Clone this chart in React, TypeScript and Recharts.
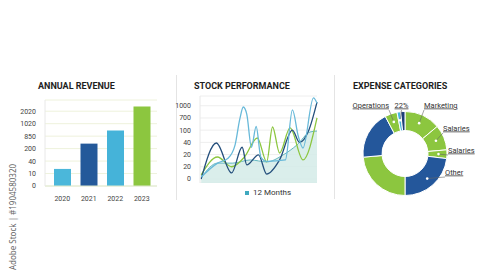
import React from 'react';
import {
  BarChart,
  Bar,
  Cell,
  XAxis,
  YAxis,
  CartesianGrid,
  ComposedChart,
  Line,
  Area,
  PieChart,
  Pie,
} from 'recharts';

// annual revenue (tick index units, labels are the odd printed values)
const revenueYears = ['2020', '2021', '2022', '2023'];
const revenueValues = [1.37, 3.4, 4.45, 6.37];
const revenueTickLabels = ['0', '10', '40', '200', '850', '1020', '2020'];
const revenueColors = ['#4bb7da', '#24599a', '#45b3d9', '#8cc63f'];

// stock performance, x in 0..100
const stockTickLabels = ['0', '20', '20', '40', '100', '700', '1000'];
const lightX = [1, 15, 24, 30, 34, 37, 40, 44, 48, 52, 57, 73, 79, 84, 88, 97, 100];
const lightY = [0.16, 1.3, 1.7, 2.8, 4.9, 5.9, 5.3, 2.6, 4.3, 1.8, 1.45, 1.56, 5.66, 3.5, 2.54, 6.64, 6.2];
const navyX = [1, 14, 27, 36, 40, 50, 57, 68, 79, 85, 93, 100];
const navyY = [0, 2.95, 0.5, 2.6, 1.15, 1.97, 0.4, 1.56, 4.0, 3.0, 4.0, 6.3];
const greenX = [1, 15, 27, 38, 49, 57, 62, 68, 77, 88, 100];
const greenY = [0.33, 1.8, 1.0, 1.8, 3.36, 1.4, 4.26, 2.13, 4.18, 1.56, 5.0];
const tealX = [1, 15, 28, 43, 57, 71, 83, 94, 100];
const tealY = [0.1, 1.3, 1.3, 1.56, 1.4, 1.97, 2.8, 3.85, 3.93];

// expense categories, clockwise from top
const expenseNames = ['Marketing', 'Salaries', 'Salaries', 'Other', 'Misc', 'Rent', 'Operations', 'Tax', 'Fees'];
const expenseLabels = ['Marketing', 'Salaries', 'Salaries', 'Other', '', '', 'Operations', '22%', ''];
const expenseValues = [50, 35, 12, 83, 85, 67, 17, 5, 6];
const expenseColors = ['#8cc63f', '#8cc63f', '#8cc63f', '#24579b', '#8cc63f', '#24579b', '#8cc63f', '#49b6dc', '#1d3f78'];

const toPoints = (xs: number[], ys: number[]) => xs.map((x, i) => ({ x, y: ys[i] }));

const revenueData = revenueYears.map((year, i) => ({ year, value: revenueValues[i] }));
const expenseData = expenseNames.map((name, i) => ({
  name,
  label: expenseLabels[i],
  value: expenseValues[i],
}));

const FONT = 'Roboto, "Noto Sans", sans-serif';
const tickStyle = { fontSize: 7, fill: '#444', fontFamily: FONT };

const titleStyle: React.CSSProperties = {
  position: 'absolute',
  top: 81,
  fontFamily: FONT,
  fontWeight: 700,
  fontSize: 9,
  color: '#1e1e1e',
  letterSpacing: 0,
  whiteSpace: 'nowrap',
};

// where each label's text sits relative to the donut centre
const labelSpots: Record<string, { dx: number; dy: number; anchor: 'start' | 'end' | 'middle' }> = {
  Marketing: { dx: 19, dy: -46, anchor: 'start' },
  Salaries0: { dx: 38, dy: -23, anchor: 'start' },
  Salaries1: { dx: 43, dy: -1, anchor: 'start' },
  Other: { dx: 40, dy: 21, anchor: 'start' },
  Operations: { dx: -16, dy: -46, anchor: 'end' },
  '22%': { dx: -3.5, dy: -46, anchor: 'middle' },
};

const RAD = Math.PI / 180;

function renderExpenseLabel(props: any) {
  const { cx, cy, midAngle, innerRadius, outerRadius, index } = props;
  const text = expenseLabels[index];
  if (!text) return null;
  const key = text === 'Salaries' ? (index === 1 ? 'Salaries0' : 'Salaries1') : text;
  const spot = labelSpots[key];
  const r = (innerRadius + outerRadius) / 2 + 1;
  const dotX = cx + r * Math.cos(-midAngle * RAD);
  const dotY = cy + r * Math.sin(-midAngle * RAD);
  const tx = cx + spot.dx;
  const ty = cy + spot.dy;
  return (
    <g>
      <line x1={tx} y1={ty + 2.5} x2={dotX} y2={dotY} stroke="#666" strokeWidth={0.6} />
      <text
        x={tx}
        y={ty}
        textAnchor={spot.anchor}
        fontSize={7.5}
        fontFamily={FONT}
        fill="#333"
        style={{ textDecoration: 'underline' }}
      >
        {text}
      </text>
      <circle cx={dotX} cy={dotY} r={1.3} fill="#fff" />
    </g>
  );
}

export default function App() {
  return (
    <div
      style={{
        position: 'absolute',
        left: 0,
        top: 0,
        width: 500,
        height: 273,
        background: '#fff',
        overflow: 'hidden',
        fontFamily: FONT,
      }}
    >
      <div style={{ ...titleStyle, left: 38 }}>ANNUAL REVENUE</div>
      <div style={{ ...titleStyle, left: 194 }}>STOCK PERFORMANCE</div>
      <div style={{ ...titleStyle, left: 353 }}>EXPENSE CATEGORIES</div>

      <div style={{ position: 'absolute', left: 176, top: 75, width: 1, height: 125, background: '#e4e4e4' }} />
      <div style={{ position: 'absolute', left: 334, top: 75, width: 1, height: 124, background: '#e4e4e4' }} />

      <div style={{ position: 'absolute', left: 20, top: 95 }}>
        <BarChart width={145} height={110} data={revenueData} margin={{ top: 5, right: 8, left: 0, bottom: 0 }}>
          <CartesianGrid vertical={false} stroke="#eef2dc" />
          <XAxis
            dataKey="year"
            tick={tickStyle}
            tickLine={false}
            axisLine={{ stroke: '#dfe8d0' }}
            tickMargin={4}
            height={19}
            padding={{ left: 4, right: 2 }}
            interval={0}
          />
          <YAxis
            type="number"
            domain={[0, 6.9]}
            ticks={[0, 1, 2, 3, 4, 5, 6]}
            tickFormatter={(v) => revenueTickLabels[v]}
            tick={tickStyle}
            tickLine={false}
            axisLine={{ stroke: '#e8e8e8' }}
            width={25}
            tickMargin={3}
            interval={0}
          />
          <Bar dataKey="value" barSize={17} isAnimationActive={false}>
            {revenueData.map((d, i) => (
              <Cell key={d.year} fill={revenueColors[i]} />
            ))}
          </Bar>
        </BarChart>
      </div>

      <div style={{ position: 'absolute', left: 175, top: 90 }}>
        <ComposedChart width={150} height={93} margin={{ top: 6, right: 8, left: 0, bottom: 0 }}>
          <CartesianGrid vertical={false} stroke="#eeeeee" />
          <XAxis type="number" dataKey="x" domain={[0, 100]} hide />
          <YAxis
            type="number"
            domain={[-0.33, 6.8]}
            ticks={[0, 1, 2, 3, 4, 5, 6]}
            tickFormatter={(v) => stockTickLabels[v]}
            tick={tickStyle}
            tickLine={false}
            axisLine={{ stroke: '#e8e8e8' }}
            width={25}
            tickMargin={3}
            interval={0}
            allowDataOverflow
          />
          <Area
            data={toPoints(tealX, tealY)}
            dataKey="y"
            type="monotone"
            stroke="#62b7bf"
            strokeWidth={1}
            fill="#d3ebe8"
            fillOpacity={0.85}
            baseValue="dataMin"
            isAnimationActive={false}
          />
          <Line
            data={toPoints(greenX, greenY)}
            dataKey="y"
            type="monotone"
            stroke="#8cc63f"
            strokeWidth={1.3}
            dot={false}
            isAnimationActive={false}
          />
          <Line
            data={toPoints(navyX, navyY)}
            dataKey="y"
            type="monotone"
            stroke="#244f7c"
            strokeWidth={1.3}
            dot={false}
            isAnimationActive={false}
          />
          <Line
            data={toPoints(lightX, lightY)}
            dataKey="y"
            type="monotone"
            stroke="#68b9d9"
            strokeWidth={1.3}
            dot={false}
            isAnimationActive={false}
          />
        </ComposedChart>
      </div>
      <div
        style={{
          position: 'absolute',
          left: 245,
          top: 188,
          display: 'flex',
          alignItems: 'center',
          fontSize: 8,
          color: '#333',
          whiteSpace: 'nowrap',
        }}
      >
        <span style={{ width: 4, height: 4, background: '#3fa9bf', marginRight: 4 }} />
        12 Months
      </div>

      <div style={{ position: 'absolute', left: 335, top: 75 }}>
        <PieChart width={155} height={130} margin={{ top: 0, right: 0, left: 0, bottom: 0 }}>
          <Pie
            data={expenseData}
            dataKey="value"
            nameKey="name"
            cx={70}
            cy={78.5}
            innerRadius={23}
            outerRadius={42}
            startAngle={90}
            endAngle={-270}
            stroke="#fff"
            strokeWidth={1}
            label={renderExpenseLabel}
            labelLine={false}
            isAnimationActive={false}
          >
            {expenseData.map((d, i) => (
              <Cell key={i} fill={expenseColors[i]} />
            ))}
          </Pie>
        </PieChart>
      </div>

      <div
        style={{
          position: 'absolute',
          left: 11.5,
          top: 217,
          transform: 'translate(-50%, -50%) rotate(-90deg)',
          fontFamily: '"Noto Sans", sans-serif',
          fontSize: 8,
          color: '#666',
          whiteSpace: 'nowrap',
        }}
      >
        Adobe Stock | #1904580320
      </div>
    </div>
  );
}
